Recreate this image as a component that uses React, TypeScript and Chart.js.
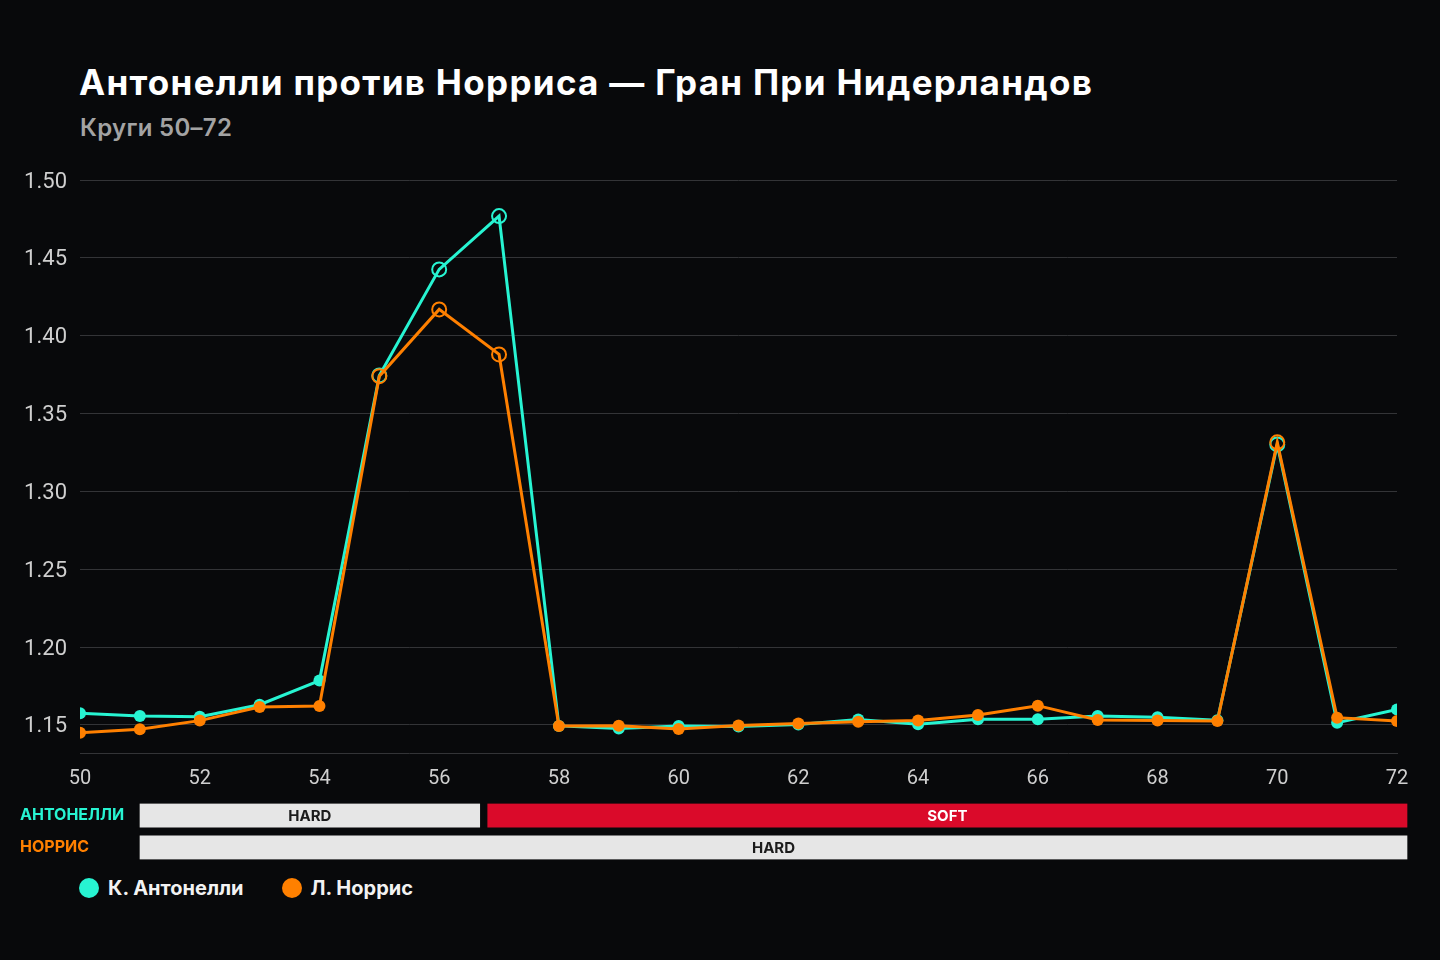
import { useEffect, useRef } from 'react';
import { Chart, registerables } from 'chart.js';

Chart.register(...registerables);

// ---------- data ----------
const laps = [50, 51, 52, 53, 54, 55, 56, 57, 58, 59, 60, 61, 62, 63, 64, 65, 66, 67, 68, 69, 70, 71, 72];
const antonelliTimes = [
  1.1575, 1.1558, 1.1553, 1.163, 1.1785, 1.3745, 1.4426, 1.4768, 1.1494, 1.1478, 1.1494, 1.149,
  1.1503, 1.1535, 1.1505, 1.1537, 1.1537, 1.1558, 1.155, 1.153, 1.3302, 1.1515, 1.160,
];
const norrisTimes = [
  1.145, 1.1472, 1.1528, 1.1615, 1.1622, 1.374, 1.4169, 1.388, 1.1494, 1.1495, 1.1474, 1.1497,
  1.151, 1.152, 1.1528, 1.1564, 1.1624, 1.1532, 1.1528, 1.1526, 1.3315, 1.1547, 1.1526,
];
const markedLaps = [55, 56, 57, 70];
const yTicks = [1.15, 1.2, 1.25, 1.3, 1.35, 1.4, 1.45, 1.5];
const yMin = 1.132;
const yMax = 1.5;
const xTickStep = 2;

const driverNames = ['К. Антонелли', 'Л. Норрис'];
const driverColors = ['#27F4D2', '#FF8000'];

const stripLabels = ['АНТОНЕЛЛИ', 'НОРРИС'];
const antonelliStintCompounds = ['HARD', 'SOFT'];
const antonelliStintLaps = [[51, 56], [57, 72]];
const norrisStintCompounds = ['HARD'];
const norrisStintLaps = [[51, 72]];
const compoundColors: Record<string, string> = { HARD: '#e6e6e6', SOFT: '#da0a2a' };
const compoundTextColors: Record<string, string> = { HARD: '#1c1c1c', SOFT: '#ffffff' };

const TITLE = 'Антонелли против Норриса — Гран При Нидерландов';
const SUBTITLE = 'Круги 50–72';

// ---------- styles ----------
const BG = '#08090b';
const GRID = '#333437';
const TICK = '#cfcfcf';
const FONT = 'Roboto, "Noto Sans", sans-serif';
const HEAD_FONT = 'Inter, Roboto, sans-serif';

const stintLabelPlugin = {
  id: 'stintLabels',
  afterDatasetsDraw(chart: any) {
    const ctx = chart.ctx;
    chart.data.datasets.forEach((ds: any, i: number) => {
      const meta = chart.getDatasetMeta(i);
      meta.data.forEach((el: any, j: number) => {
        if (ds.data[j] == null) return;
        const { x, base, y } = el.getProps(['x', 'base', 'y'], true);
        ctx.save();
        ctx.font = `bold 15px ${HEAD_FONT}`;
        ctx.fillStyle = compoundTextColors[ds.label];
        ctx.textAlign = 'center';
        ctx.textBaseline = 'middle';
        ctx.fillText(ds.label, (x + base) / 2, y + 1);
        ctx.restore();
      });
    });
  },
};

export default function App() {
  const mainRef = useRef<HTMLCanvasElement>(null);
  const stripRef = useRef<HTMLCanvasElement>(null);

  useEffect(() => {
    document.body.style.margin = '0';
    document.body.style.background = BG;

    const seriesList = [antonelliTimes, norrisTimes];
    const mainChart = new Chart(mainRef.current!, {
      type: 'line',
      data: {
        datasets: seriesList.map((vals, d) => ({
          label: driverNames[d],
          data: laps.map((lap, i) => ({ x: lap, y: vals[i] })),
          borderColor: driverColors[d],
          backgroundColor: driverColors[d],
          borderWidth: 3,
          tension: 0,
          order: d === 0 ? 2 : 1,
          pointRadius: (c: any) => (markedLaps.includes(laps[c.dataIndex]) ? 7 : 6),
          pointBorderWidth: (c: any) => (markedLaps.includes(laps[c.dataIndex]) ? 2 : 0),
          pointBackgroundColor: (c: any) =>
            markedLaps.includes(laps[c.dataIndex]) ? 'rgba(0,0,0,0)' : driverColors[d],
          pointBorderColor: driverColors[d],
        })),
      },
      options: {
        animation: false,
        responsive: true,
        maintainAspectRatio: false,
        layout: { padding: { top: 30, right: 43, left: 0, bottom: 0 } },
        plugins: { legend: { display: false }, tooltip: { enabled: false }, title: { display: false } },
        scales: {
          x: {
            type: 'linear',
            min: laps[0],
            max: laps[laps.length - 1],
            ticks: { stepSize: xTickStep, color: TICK, font: { family: FONT, size: 20 }, padding: 14 },
            grid: { display: false, drawTicks: false },
            border: { display: true, color: GRID, width: 1 },
            afterFit: (s: any) => {
              s.height = 47;
            },
          },
          y: {
            type: 'linear',
            min: yMin,
            max: yMax,
            afterBuildTicks: (s: any) => {
              s.ticks = yTicks.map((v) => ({ value: v }));
            },
            ticks: {
              color: TICK,
              font: { family: FONT, size: 22 },
              padding: 13,
              labelOffset: 2,
              callback: (v: any) => Number(v).toFixed(2),
            },
            grid: { color: GRID, drawTicks: false, lineWidth: 1 },
            border: { display: false },
            afterFit: (s: any) => {
              s.width = 80;
            },
          },
        },
      },
    } as any);

    const stintSets = [
      { compounds: antonelliStintCompounds, ranges: antonelliStintLaps, row: 0 },
      { compounds: norrisStintCompounds, ranges: norrisStintLaps, row: 1 },
    ];
    const stripDatasets: any[] = [];
    stintSets.forEach((s) => {
      s.compounds.forEach((comp, k) => {
        const [from, to] = s.ranges[k];
        stripDatasets.push({
          label: comp,
          data: stripLabels.map((_, r) => (r === s.row ? [from - 1, to] : null)),
          backgroundColor: compoundColors[comp],
          borderColor: BG,
          borderWidth: { left: 4, right: 4, top: 0, bottom: 0 },
          borderSkipped: false,
          grouped: false,
          barThickness: 24,
        });
      });
    });

    const stripChart = new Chart(stripRef.current!, {
      type: 'bar',
      data: { labels: stripLabels, datasets: stripDatasets },
      options: {
        animation: false,
        responsive: true,
        maintainAspectRatio: false,
        indexAxis: 'y',
        layout: { padding: { left: 20, right: 29, top: 0, bottom: 0 } },
        plugins: { legend: { display: false }, tooltip: { enabled: false } },
        scales: {
          x: {
            type: 'linear',
            min: laps[0],
            max: laps[laps.length - 1],
            display: false,
          },
          y: {
            type: 'category',
            grid: { display: false, drawTicks: false },
            border: { display: false },
            ticks: {
              crossAlign: 'far',
              padding: 0,
              color: (c: any) => driverColors[c.index],
              font: { family: HEAD_FONT, size: 16, weight: 'bold' },
            },
            afterFit: (s: any) => {
              s.width = 116;
            },
          },
        },
      },
      plugins: [stintLabelPlugin],
    } as any);

    return () => {
      mainChart.destroy();
      stripChart.destroy();
    };
  }, []);

  return (
    <div
      style={{
        position: 'relative',
        width: 1440,
        height: 960,
        background: BG,
        overflow: 'hidden',
        fontFamily: HEAD_FONT,
      }}
    >
      <div
        style={{
          position: 'absolute',
          left: 79,
          top: 65,
          fontSize: 35,
          lineHeight: 1,
          fontWeight: 700,
          letterSpacing: '1.3px',
          color: '#ffffff',
          whiteSpace: 'nowrap',
        }}
      >
        {TITLE}
      </div>
      <div
        style={{
          position: 'absolute',
          left: 80,
          top: 116,
          fontSize: 24,
          lineHeight: 1,
          fontWeight: 600,
          letterSpacing: '0.3px',
          color: '#a3a3a3',
          whiteSpace: 'nowrap',
        }}
      >
        {SUBTITLE}
      </div>
      <div style={{ position: 'absolute', left: 0, top: 150, width: 1440, height: 650 }}>
        <canvas ref={mainRef} />
      </div>
      <div style={{ position: 'absolute', left: 0, top: 790, width: 1440, height: 83 }}>
        <canvas ref={stripRef} />
      </div>
      <div
        style={{
          position: 'absolute',
          left: 79,
          top: 878,
          display: 'flex',
          alignItems: 'center',
          gap: 38,
          height: 20,
        }}
      >
        {driverNames.map((n, i) => (
          <div key={n} style={{ display: 'flex', alignItems: 'center', gap: 9 }}>
            <span
              style={{
                display: 'inline-block',
                width: 20,
                height: 20,
                borderRadius: '50%',
                background: driverColors[i],
              }}
            />
            <span style={{ color: '#f2f2f2', fontSize: 20, fontWeight: 700, lineHeight: 1 }}>{n}</span>
          </div>
        ))}
      </div>
    </div>
  );
}
